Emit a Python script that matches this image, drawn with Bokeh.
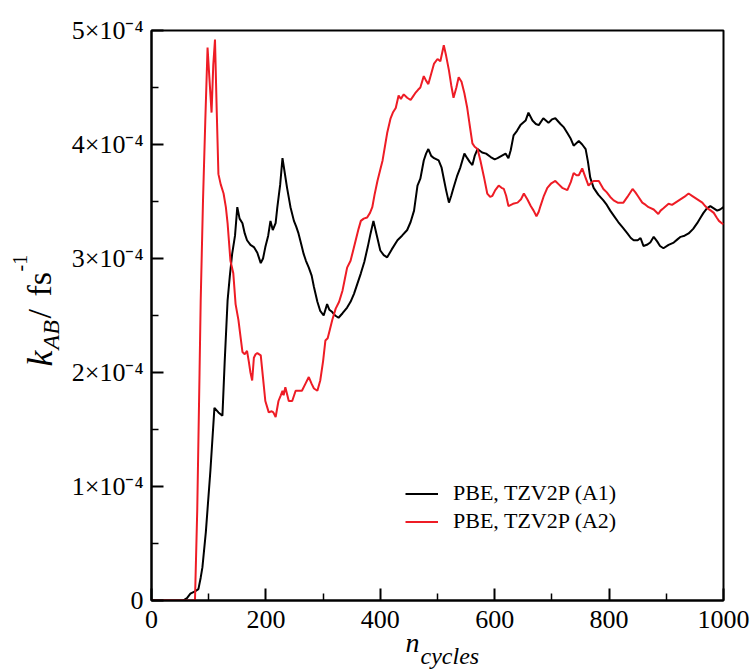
import numpy as np
from bokeh.plotting import figure
from bokeh.layouts import row
from bokeh.models import Range1d, FixedTicker, CustomJSTickFormatter, Legend, LegendItem, Title
from bokeh.core.properties import value
from bokeh.embed import file_html
from bokeh.resources import INLINE

# ---- data (k in units of 1e-4 fs^-1) ----
a1_n = [0, 55, 62, 68, 76, 82, 86, 89, 95, 103, 110, 117, 124, 128, 133, 137, 141, 146, 150, 154,
        159, 163, 167, 173, 179, 185, 191, 195, 199, 204, 208, 212, 217, 220, 225, 229, 233, 237,
        243, 249, 253, 257, 262, 266, 270, 275, 280, 284, 290, 295, 301, 307, 311, 316, 321, 327,
        334, 342, 348, 354, 360, 366, 372, 378, 383, 388, 394, 400, 406, 412, 420, 430, 438, 447,
        453, 459, 465, 470, 476, 480, 484, 489, 494, 502, 507, 511, 515, 520, 524, 528, 534, 540,
        547, 552, 556, 561, 565, 570, 578, 585, 593, 600, 605, 612, 619, 624, 628, 633, 639, 645,
        654, 659, 666, 672, 677, 685, 694, 700, 706, 715, 721, 727, 733, 738, 747, 753, 759, 763,
        767, 773, 781, 790, 796, 802, 809, 816, 824, 832, 838, 843, 850, 855, 860, 866, 872, 878,
        884, 889, 895, 904, 913, 920, 925, 932, 939, 947, 954, 960, 965, 971, 977, 983, 989, 994, 1000]
a1_k = [0, 0, 0.02, 0.06, 0.08, 0.1, 0.2, 0.29, 0.6, 1.14, 1.69, 1.65, 1.62, 2.1, 2.63, 2.85, 3.04, 3.2, 3.45, 3.35,
        3.31, 3.22, 3.16, 3.12, 3.10, 3.05, 2.96, 3.0, 3.1, 3.2, 3.33, 3.25, 3.31, 3.45, 3.65, 3.88, 3.75, 3.62,
        3.45, 3.33, 3.28, 3.22, 3.12, 3.04, 2.98, 2.92, 2.85, 2.75, 2.62, 2.54, 2.50, 2.6, 2.55, 2.53, 2.5, 2.48,
        2.52, 2.57, 2.62, 2.69, 2.78, 2.87, 2.97, 3.1, 3.22, 3.33, 3.2, 3.07, 3.03, 3.01, 3.08, 3.16, 3.2, 3.25,
        3.32, 3.42, 3.64, 3.7, 3.86, 3.92, 3.96, 3.9, 3.88, 3.86, 3.8, 3.7, 3.6, 3.49, 3.55, 3.62, 3.72, 3.8,
        3.92, 3.88, 3.85, 3.82, 3.9, 3.96, 3.93, 3.92, 3.89, 3.87, 3.88, 3.9, 3.92, 3.88, 3.95, 4.08, 4.12, 4.17,
        4.21, 4.28, 4.21, 4.18, 4.17, 4.23, 4.19, 4.22, 4.23, 4.18, 4.15, 4.10, 4.05, 3.99, 4.03, 4.0, 3.96, 3.85,
        3.71, 3.62, 3.56, 3.51, 3.47, 3.42, 3.37, 3.32, 3.27, 3.22, 3.18, 3.16, 3.16, 3.18, 3.11, 3.12, 3.14, 3.19,
        3.15, 3.11, 3.09, 3.12, 3.14, 3.17, 3.19, 3.2, 3.22, 3.26, 3.31, 3.36, 3.4, 3.44, 3.46, 3.44, 3.42, 3.43, 3.45]

a2_n = [0, 76, 80, 84, 86, 90, 94, 98, 101, 105, 108, 111, 114, 117, 121, 126, 130, 133, 138, 143,
        147, 152, 156, 159, 163, 167, 170, 173, 176, 179, 182, 185, 191, 195, 199, 205, 210, 213, 217,
        222, 226, 229, 231, 234, 240, 246, 252, 258, 263, 269, 275, 280, 284, 290, 295, 300, 304, 308,
        312, 316, 322, 328, 334, 338, 342, 348, 352, 357, 362, 366, 371, 377, 382, 386, 390, 395, 400,
        404, 408, 412, 418, 422, 427, 432, 436, 441, 447, 453, 457, 461, 466, 470, 476, 480, 484, 489,
        494, 500, 505, 511, 515, 520, 524, 528, 533, 537, 542, 547, 552, 556, 561, 565, 570, 575, 581,
        587, 592, 596, 601, 607, 612, 616, 620, 624, 632, 640, 646, 651, 657, 663, 668, 673, 677, 680,
        686, 692, 699, 706, 712, 718, 727, 733, 738, 743, 747, 753, 758, 764, 768, 773, 782, 790, 796,
        802, 808, 815, 825, 832, 841, 846, 850, 858, 864, 869, 878, 886, 890, 895, 904, 910, 916, 922,
        928, 934, 939, 945, 951, 957, 963, 968, 972, 978, 983, 988, 992, 997, 1000]
a2_k = [0, 0, 0.8, 2.0, 2.63, 3.5, 4.2, 4.85, 4.6, 4.28, 4.7, 4.92, 4.3, 3.74, 3.65, 3.57, 3.45, 3.31, 2.98, 2.87,
        2.6, 2.46, 2.3, 2.18, 2.16, 2.19, 2.1, 2.0, 1.93, 2.13, 2.16, 2.17, 2.15, 1.95, 1.75, 1.65, 1.66, 1.65, 1.61,
        1.75, 1.8, 1.84, 1.8, 1.87, 1.75, 1.75, 1.84, 1.84, 1.84, 1.9, 1.96, 1.9, 1.86, 1.84, 1.93, 2.1, 2.28, 2.3,
        2.38, 2.46, 2.56, 2.62, 2.72, 2.82, 2.92, 2.98, 3.06, 3.16, 3.26, 3.33, 3.35, 3.36, 3.4, 3.45, 3.56, 3.68, 3.78,
        3.86, 3.98, 4.1, 4.23, 4.28, 4.32, 4.43, 4.4, 4.44, 4.41, 4.39, 4.42, 4.45, 4.48, 4.5, 4.6, 4.56, 4.53, 4.62,
        4.71, 4.75, 4.73, 4.87, 4.78, 4.65, 4.52, 4.41, 4.5, 4.59, 4.55, 4.45, 4.32, 4.18, 4.01, 3.98, 3.96, 3.86, 3.72,
        3.57, 3.54, 3.55, 3.6, 3.64, 3.62, 3.61, 3.55, 3.46, 3.48, 3.49, 3.52, 3.57, 3.52, 3.46, 3.42, 3.37, 3.41, 3.46,
        3.55, 3.62, 3.66, 3.68, 3.65, 3.62, 3.6, 3.67, 3.75, 3.73, 3.73, 3.79, 3.72, 3.64, 3.66, 3.68, 3.68, 3.61, 3.58,
        3.54, 3.51, 3.49, 3.49, 3.54, 3.61, 3.58, 3.55, 3.49, 3.47, 3.45, 3.43, 3.39, 3.42, 3.44, 3.48, 3.47, 3.49, 3.51,
        3.53, 3.55, 3.57, 3.55, 3.53, 3.51, 3.49, 3.46, 3.44, 3.42, 3.40, 3.36, 3.33, 3.31, 3.3]

SCALE = 1e-4
x_major = [0, 200, 400, 600, 800, 1000]
x_minor = [100, 300, 500, 700, 900]
y_major = [0, 1e-4, 2e-4, 3e-4, 4e-4, 5e-4]
y_minor = [0.5e-4, 1.5e-4, 2.5e-4, 3.5e-4, 4.5e-4]
series_labels = ["PBE, TZV2P (A1)", "PBE, TZV2P (A2)"]
series_colors = ["#000000", "#ee1c25"]

SERIF = "Liberation Serif"

# ---- layout constants (pixels) ----
W_TOT, H_TOT = 755, 669
L_W = 66                      # left strip holding the y title
B_LEFT, B_RIGHT, B_TOP = 151 - L_W, 32, 30
FRAME_H = 570
B_BOT = H_TOT - B_TOP - FRAME_H
X_MIN, X_MAX, Y_MIN, Y_MAX = 0, 1000, 0, 5e-4

# ---- main plot ----
p = figure(width=W_TOT - L_W, height=H_TOT, output_backend="svg", toolbar_location=None,
           title=None, x_range=Range1d(X_MIN, X_MAX), y_range=Range1d(Y_MIN, Y_MAX),
           min_border_left=B_LEFT, min_border_right=B_RIGHT,
           min_border_top=B_TOP, min_border_bottom=B_BOT)
p.background_fill_color = "white"
p.border_fill_color = "white"
p.grid.visible = False
p.outline_line_color = "black"
p.outline_line_width = 2

r1 = p.line(a1_n, np.array(a1_k) * SCALE, line_color=series_colors[0], line_width=2)
r2 = p.line(a2_n, np.array(a2_k) * SCALE, line_color=series_colors[1], line_width=2)

for ax in (p.xaxis[0], p.yaxis[0]):
    ax.axis_line_color = "black"
    ax.axis_line_width = 2
    ax.major_tick_in = 12
    ax.major_tick_out = 0
    ax.minor_tick_in = 7
    ax.minor_tick_out = 0
    ax.major_tick_line_width = 2
    ax.minor_tick_line_width = 1.5
    ax.major_label_text_font = SERIF
    ax.major_label_text_font_size = "26px"
    ax.major_label_text_color = "black"

p.xaxis[0].ticker = FixedTicker(ticks=x_major, minor_ticks=x_minor)
p.yaxis[0].ticker = FixedTicker(ticks=y_major, minor_ticks=y_minor)
p.xaxis[0].major_label_standoff = 10
p.yaxis[0].major_label_standoff = 8
p.yaxis[0].formatter = CustomJSTickFormatter(code="""
    const m = Math.round(tick * 1e4);
    if (m === 0) { return "0"; }
    return m + "\\u00d710\\u207b\\u2074";
""")

# x title: italic n with subscript "cycles"
t_n = Title(text="n", align="left", vertical_align="top", offset=254, standoff=-8,
            text_font=SERIF, text_font_size="28px", text_font_style="italic", text_color="black")
t_c = Title(text="cycles", align="left", vertical_align="top", offset=269, standoff=-25,
            text_font=SERIF, text_font_size="24px", text_font_style="italic", text_color="black")
p.add_layout(t_n, "below")
p.add_layout(t_c, "below")

legend = Legend(items=[LegendItem(label=series_labels[0], renderers=[r1]),
                       LegendItem(label=series_labels[1], renderers=[r2])],
                location=(254, 66))
legend.background_fill_alpha = 0
legend.border_line_alpha = 0
legend.padding = 0
legend.margin = 0
legend.spacing = 2
legend.glyph_width = 33
legend.glyph_height = 25
legend.label_standoff = 15
legend.label_text_font = SERIF
legend.label_text_font_size = "22px"
legend.label_text_color = "black"
p.add_layout(legend)

# ---- left strip: y title (frame aligned with the main frame) ----
left = figure(width=L_W, height=H_TOT, output_backend="svg", toolbar_location=None, title=None,
              x_range=Range1d(0, L_W), y_range=Range1d(0, FRAME_H),
              min_border_left=0, min_border_right=0, min_border_top=B_TOP, min_border_bottom=B_BOT,
              x_axis_type=None, y_axis_type=None)
left.outline_line_color = None
left.grid.visible = False
left.background_fill_color = "white"
left.border_fill_color = "white"

A = np.pi / 2
def ytitle(txt, x, y_page, size, style):
    left.text(x=[x], y=[B_TOP + FRAME_H - y_page], text=[txt], angle=A,
              text_font=value(SERIF), text_font_size=value(size), text_font_style=style,
              text_color="black", text_align="left", text_baseline="alphabetic")

ytitle("k", 39, 366, "36px", "italic")
ytitle("AB", 50, 349, "24px", "italic")
ytitle("/", 39, 318, "34px", "normal")
ytitle("fs", 39, 296, "34px", "normal")
ytitle("-1", 19, 271, "20px", "normal")

layout = row(left, p, spacing=0)
open("out.html", "w").write(file_html(layout, INLINE))
